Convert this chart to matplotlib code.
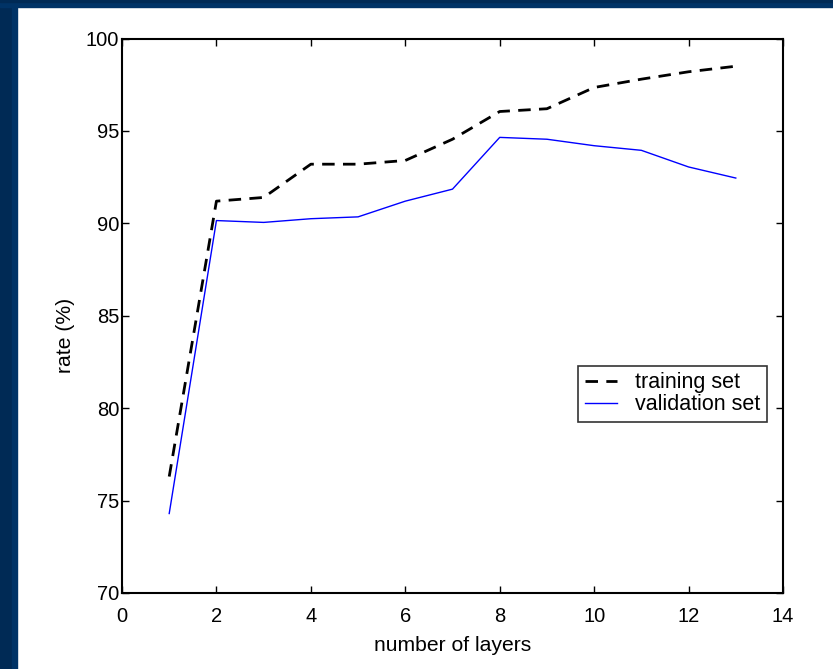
import numpy as np
import matplotlib
matplotlib.use('Agg')
import matplotlib.pyplot as plt
from matplotlib.patches import Rectangle

# Recognition rate against network depth
layers = [1, 2, 3, 4, 5, 6, 7, 8, 9, 10, 11, 12, 13]
training_rate = [76.3, 91.2, 91.4, 93.2, 93.2, 93.4, 94.55, 96.05, 96.2, 97.35, 97.8, 98.2, 98.5]
validation_rate = [74.3, 90.15, 90.05, 90.25, 90.35, 91.2, 91.85, 94.65, 94.55, 94.2, 93.95, 93.05, 92.45]

plt.rcParams['font.family'] = ['Liberation Sans', 'DejaVu Sans']

W, H = 833, 669
fig = plt.figure(figsize=(W / 100, H / 100), dpi=100)
fig.patch.set_facecolor('white')

# slide border on the left and top
fig.patches.append(Rectangle((0, 0), 12 / W, 1, transform=fig.transFigure,
                             color='#002a55', zorder=0))
fig.patches.append(Rectangle((12 / W, 0), 5 / W, 1, transform=fig.transFigure,
                             color='#003366', zorder=0))
fig.patches.append(Rectangle((0, 1 - 7 / H), 1, 7 / H, transform=fig.transFigure,
                             color='#003366', zorder=0))
fig.patches.append(Rectangle((0, 1 - 2 / H), 1, 2 / H, transform=fig.transFigure,
                             color='#002a55', zorder=0))

ax = fig.add_axes([122 / W, 1 - 593 / H, (783 - 122) / W, (593 - 38.5) / H])

ax.plot(layers, training_rate, color='black', linestyle=(0, (4.5, 3)), linewidth=2,
        label='training set')
ax.plot(layers, validation_rate, color='blue', linewidth=1, label='validation set')

ax.set_xlim(0, 14)
ax.set_ylim(70, 100)
ax.set_xticks(np.arange(0, 15, 2))
ax.set_yticks(np.arange(70, 101, 5))
ax.tick_params(direction='in', top=True, right=True, length=5, width=1,
               labelsize=14.5)
ax.tick_params(axis='x', pad=10)
ax.tick_params(axis='y', pad=2)
for s in ax.spines.values():
    s.set_linewidth(1.5)

ax.set_xlabel('number of layers', fontsize=15.2, labelpad=7)
ax.set_ylabel('rate (%)', fontsize=15.2)
ax.yaxis.set_label_coords(-0.071, 0.465)

leg = ax.legend(loc='center right', bbox_to_anchor=(0.976, 0.359), fontsize=15.5,
                frameon=True, fancybox=False, edgecolor='black', borderpad=0.3,
                handlelength=1.5, labelspacing=0.05, handletextpad=0.85,
                borderaxespad=0)
leg.get_frame().set_linewidth(1.2)

fig.savefig('out.png', dpi=100)
